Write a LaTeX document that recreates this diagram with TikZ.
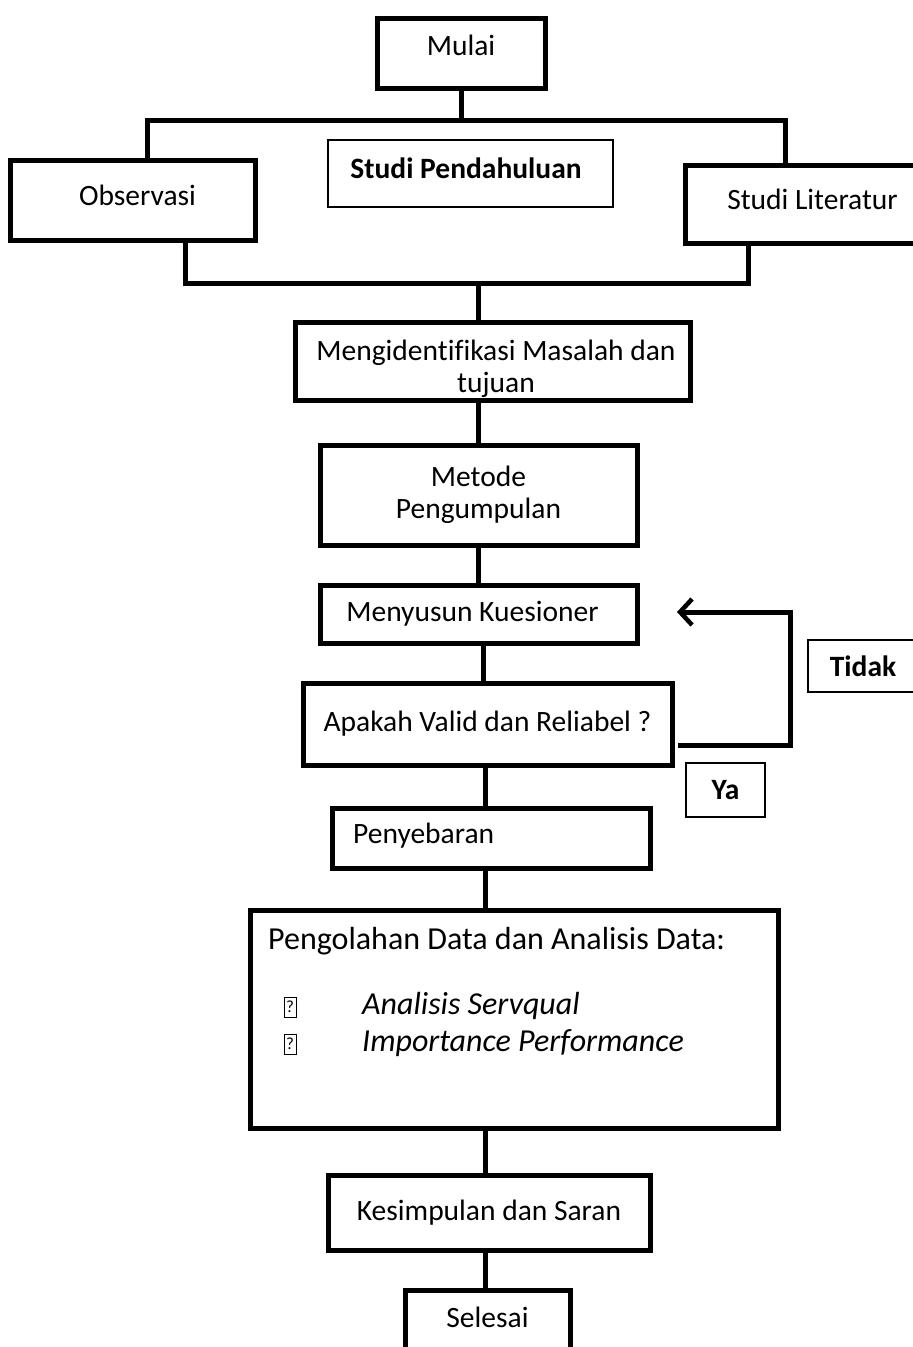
\documentclass[tikz,border=0pt]{standalone}
\usepackage{fontspec}
\setmainfont{Carlito}[Ligatures=NoCommon]
\usetikzlibrary{arrows.meta,calc}
\newcommand{\mv}[3]{\raisebox{#2}[\height][\depth]{\hspace*{#1}#3}}
\begin{document}
\begin{tikzpicture}[x=1pt,y=-1pt,
  box/.style={draw,line width=5pt,rectangle,inner sep=0pt,align=center,font=\fontsize{29.5}{32}\selectfont},
  thinbox/.style={draw,line width=1.5pt,rectangle,inner sep=0pt,align=center,font=\fontsize{29.5}{32}\selectfont\bfseries},
  conn/.style={line width=5pt},
  txt/.style={inner sep=0pt,font=\fontsize{29.5}{32}\selectfont},
  big/.style={inner sep=0pt,font=\fontsize{32}{36}\selectfont},
  bul/.style={draw,line width=0.8pt,inner sep=0pt,minimum width=12pt,minimum height=20pt,font=\fontsize{17}{18}\selectfont},
]
\useasboundingbox (0,0) rectangle (913,1347);
\fill[white] (0,0) rectangle (913,1347);

% nodes
\node[box,minimum width=168,minimum height=70] (mulai) at (461,53) {\mv{0pt}{8pt}{Mulai}};
\node[box,minimum width=245,minimum height=80] (obs) at (132.5,200) {\mv{10pt}{5pt}{Observasi}};
\node[thinbox,minimum width=285,minimum height=67] (sp) at (470.5,173.5) {};
\node[txt,font=\fontsize{29.5}{32}\selectfont\bfseries] (spt) at (466,168) {Studi Pendahuluan};
\node[box,minimum width=255,minimum height=78] (lit) at (812.5,204) {\mv{0pt}{5pt}{Studi Literatur}};
\node[box,minimum width=395,minimum height=78] (mi) at (492.5,361) {};
\node[txt,align=center] (mit) at (496,369) {Mengidentifikasi Masalah dan\\tujuan};
\node[box,minimum width=317,minimum height=100] (met) at (478.5,495) {Metode\\Pengumpulan};
\node[box,minimum width=317,minimum height=58] (mk) at (478.5,614) {\mv{0pt}{0pt}{Menyusun Kuesioner\hspace*{12pt}}};
\node[box,minimum width=369,minimum height=82] (av) at (487.5,724) {Apakah Valid dan Reliabel ?};
\node[thinbox,minimum width=110,minimum height=52] (tidak) at (863,666) {Tidak};
\node[thinbox,minimum width=79,minimum height=54] (ya) at (725.5,790) {Ya};
\node[box,minimum width=318,minimum height=60] (pen) at (491,838) {};
\node[txt,anchor=west] (pent) at (353,836) {Penyebaran};
\node[box,minimum width=528,minimum height=218] (po) at (514,1019) {};
\node[big,anchor=west] (pot) at (268,941) {Pengolahan Data dan Analisis Data:};
\node[bul] (b1) at (290,1007) {?};
\node[bul] (b2) at (290,1044) {?};
\node[big,anchor=west,font=\fontsize{32}{36}\selectfont\itshape] (b1t) at (362,1006) {Analisis Servqual};
\node[big,anchor=west,font=\fontsize{32}{36}\selectfont\itshape] (b2t) at (362,1043) {Importance Performance};
\node[box,minimum width=322,minimum height=75] (ks) at (489,1212.5) {Kesimpulan dan Saran};
\node[box,minimum width=165,minimum height=60] (sel) at (487.5,1320) {\mv{0pt}{3pt}{Selesai}};

% coordinates
\coordinate (tl) at (147,120);
\coordinate (tr) at (785,120);
\coordinate (bl) at (185,283);
\coordinate (br) at (748,283);
\coordinate (bm) at (478,283);
\coordinate (xa) at (478,0);
\coordinate (xb) at (483,0);
\coordinate (xc) at (485,0);

% top branch
\draw[conn] (mulai.south) -- (mulai.south |- tl);
\draw[conn,line cap=rect] (tl) -- (tr);
\draw[conn] (tl) -- (tl |- obs.north);
\draw[conn] (tr) -- (tr |- lit.north);
% bottom merge
\draw[conn] (bl |- obs.south) -- (bl) -- (br) -- (br |- lit.south);
\draw[conn] (bm) -- (bm |- mi.north);

% chain
\draw[conn] (xa |- mi.south) -- (xa |- met.north);
\draw[conn] (xa |- met.south) -- (xa |- mk.north);
\draw[conn] (xb |- mk.south) -- (xb |- av.north);
\draw[conn] (xc |- av.south) -- (xc |- pen.north);
\draw[conn] (xc |- pen.south) -- (xc |- po.north);
\draw[conn] (xc |- po.south) -- (xc |- ks.north);
\draw[conn] (xc |- ks.south) -- (xc |- sel.north);

% loop back
\coordinate (l1) at (678,745);
\coordinate (l2) at (790,745);
\coordinate (l3) at (790,612);
\coordinate (l4) at (677,612);
\draw[conn,-{Straight Barb[length=12pt,width=26pt,line width=4.5pt]}] (l1) -- (l2) -- (l3) -- (l4);
\end{tikzpicture}
\end{document}
